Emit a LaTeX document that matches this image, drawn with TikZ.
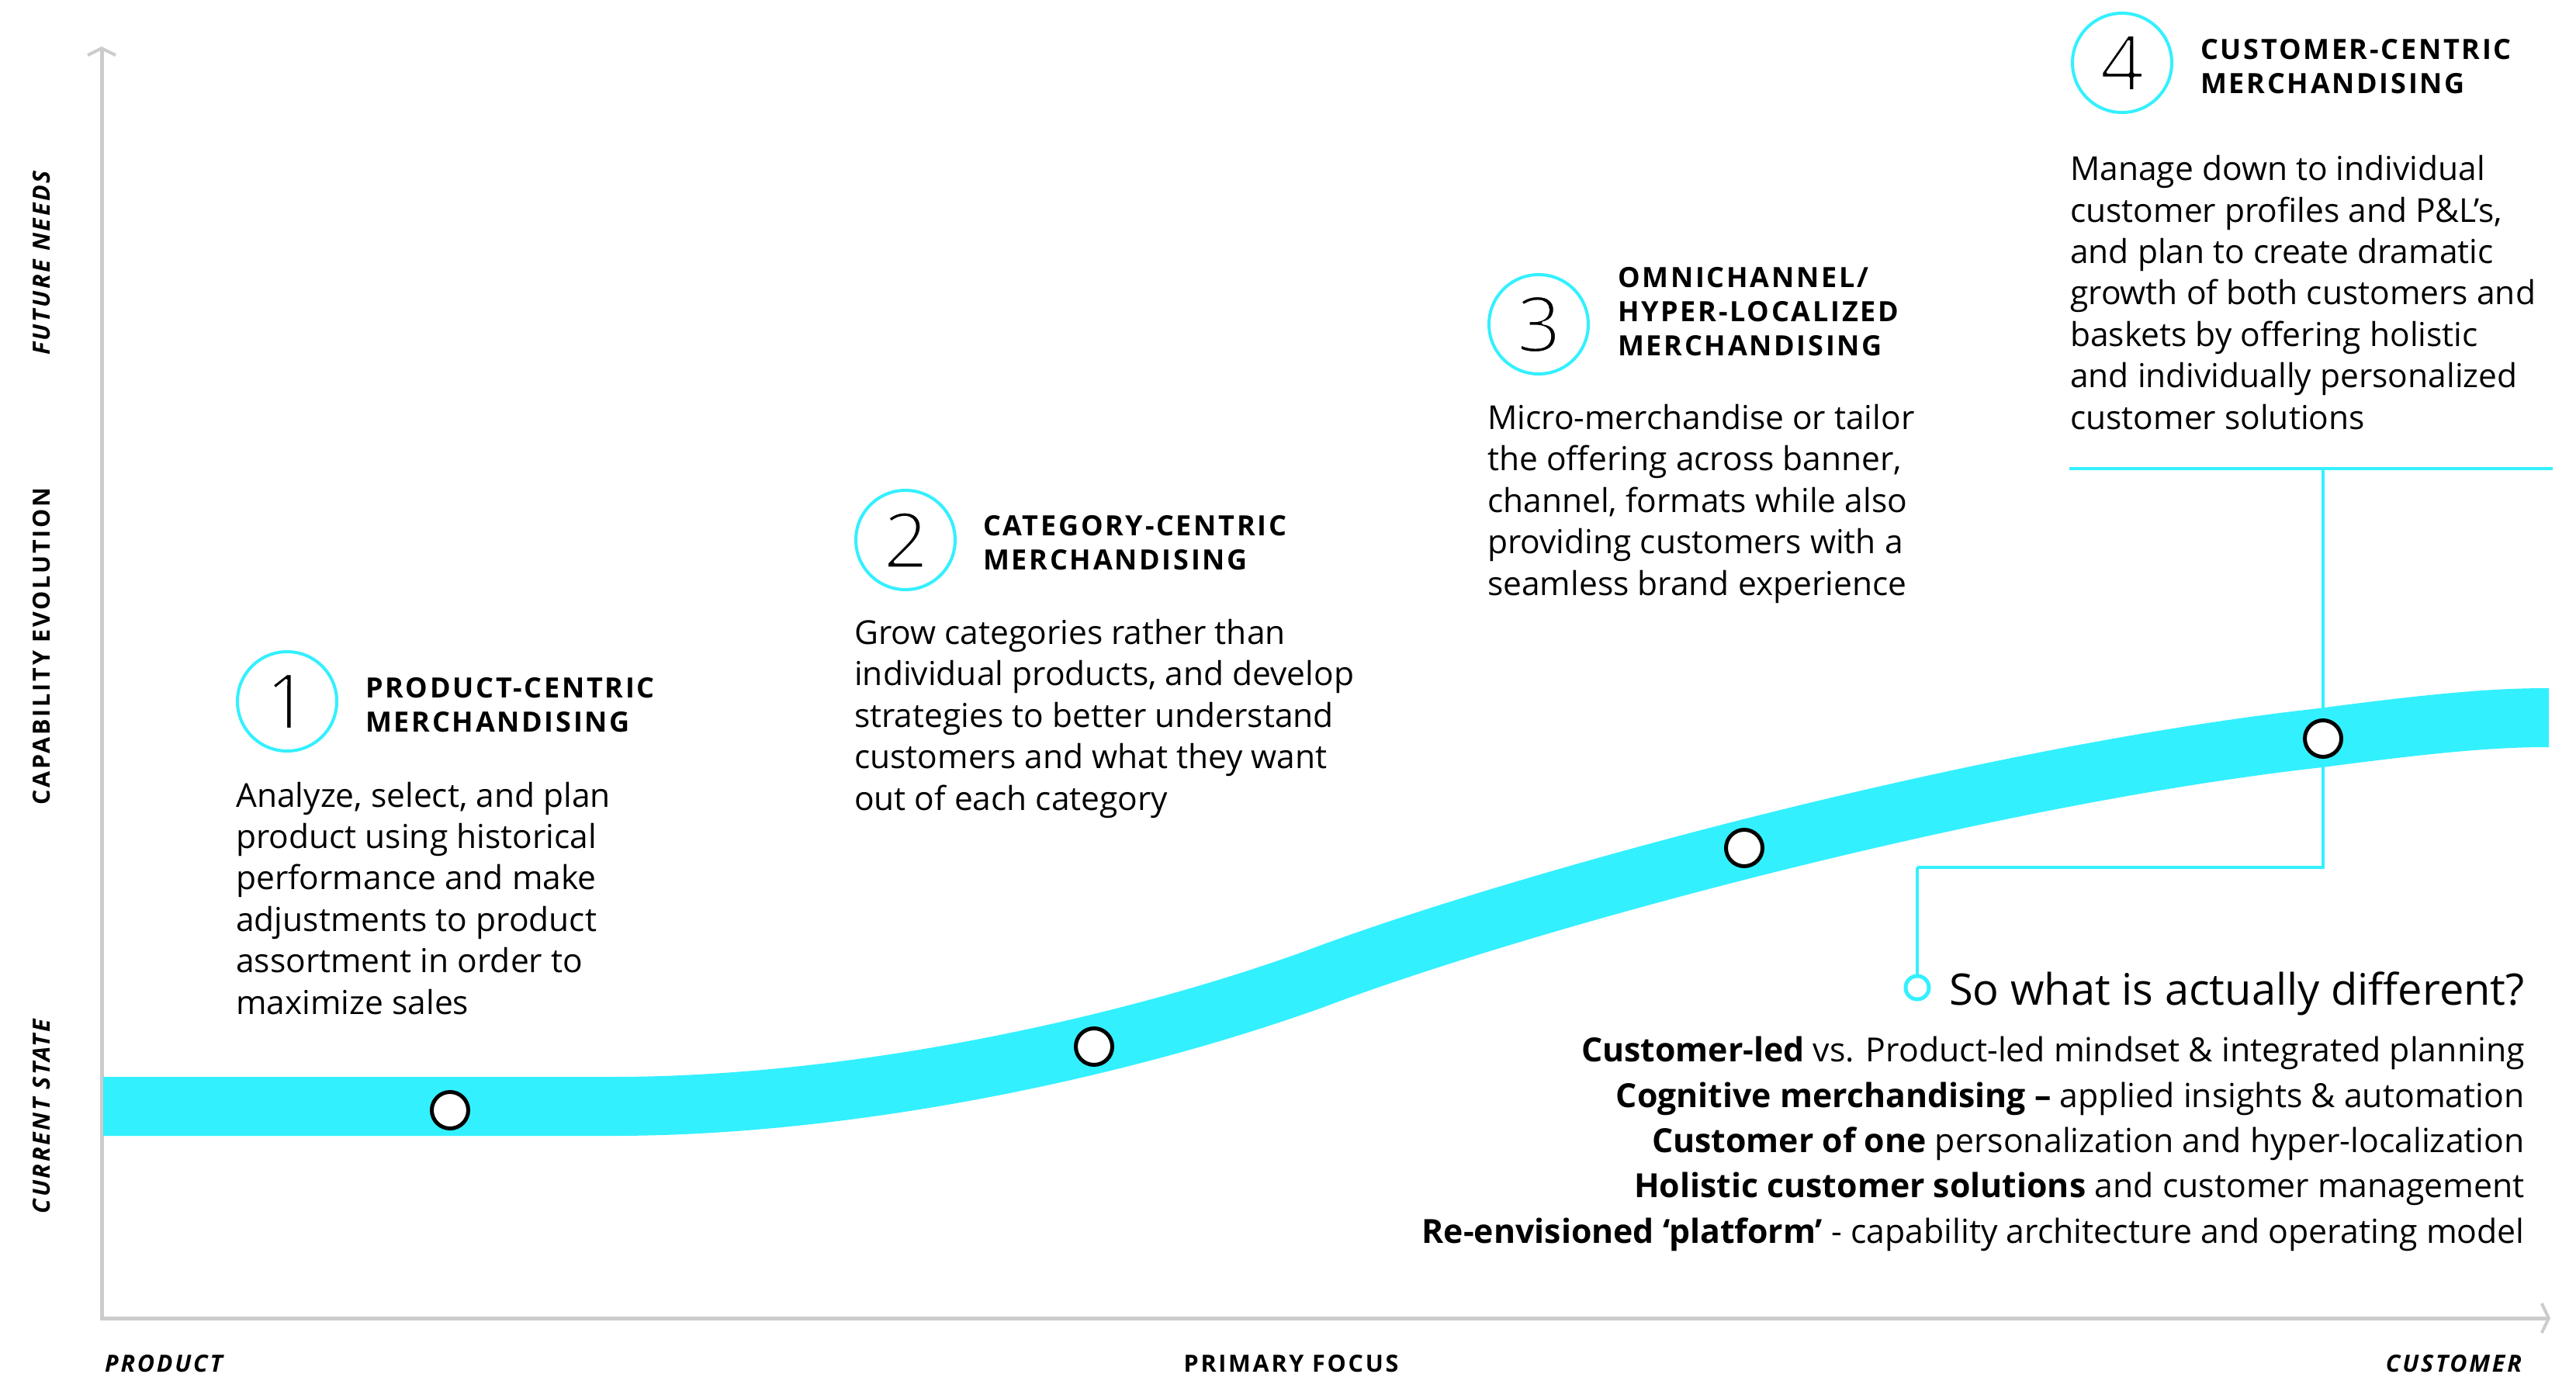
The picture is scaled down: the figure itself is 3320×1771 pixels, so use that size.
\documentclass[tikz,border=0pt]{standalone}
\usepackage{fontspec}
\setmainfont{Open Sans}
\newfontfamily\headfont{Open Sans}[LetterSpace=7.5]
\newfontfamily\axisfont{Open Sans}[LetterSpace=9]
\usetikzlibrary{arrows.meta}
\definecolor{cyanb}{RGB}{51,240,255}
\definecolor{axisgray}{RGB}{204,204,204}
\newcommand{\thindigit}[1]{\special{pdf:literal direct 2 Tr 1 1 1 RG 3.5 w 1 j}#1\special{pdf:literal direct 0 Tr}}
\begin{document}
\begin{tikzpicture}[x=1pt,y=-1pt,
  numcirc/.style={circle,draw=cyanb,line width=4pt,minimum size=128pt,inner sep=0pt,font=\fontsize{100}{100}\selectfont},
  headtxt/.style={anchor=base west,inner sep=0pt,align=left,font=\headfont\bfseries\fontsize{36}{44}\selectfont},
  bodytxt/.style={anchor=base west,inner sep=0pt,align=left,font=\fontsize{42.5}{53.4}\selectfont},
  axislbl/.style={inner sep=0pt,font=\axisfont\bfseries\itshape\fontsize{30.5}{34}\selectfont},
  axislblup/.style={inner sep=0pt,font=\axisfont\bfseries\fontsize{30.5}{34}\selectfont},
  marker/.style={circle,draw=black,fill=white,line width=5pt,minimum size=47pt,inner sep=0pt},
  link/.style={draw=cyanb,line width=4.5pt},
  axisline/.style={draw=axisgray,line width=5pt},
]
\useasboundingbox (0,0) rectangle (3320,1771);

% axes
\coordinate (ytop) at (131,60);
\coordinate (xend) at (3287,1699);
\draw[axisline,{Straight Barb[length=9pt,width=36pt,line width=4pt]}-{Straight Barb[length=9pt,width=38pt,line width=4pt]}] (ytop) |- (xend);

% axis labels
\node[axislbl,rotate=90] (fn) at (54,339) {FUTURE NEEDS};
\node[axislblup,rotate=90] (ce) at (54,833) {CAPABILITY EVOLUTION};
\node[axislbl,rotate=90] (cs) at (54,1439) {CURRENT STATE};
\node[axislbl,anchor=base west] (lp) at (135,1768) {PRODUCT};
\node[axislblup,anchor=base] (lf) at (1664,1768) {PRIMARY FOCUS};
\node[axislbl,anchor=base east] (lc) at (3250,1768) {CUSTOMER};

% connectors (behind the band)
\coordinate (tl) at (2667,604);
\coordinate (tr) at (3290,604);
\coordinate (m4pos) at (2994,952);
\coordinate (bend) at (2471,1118);
\draw[link] (tl) -- (tr);
\draw[link] (m4pos |- tl) -- (m4pos) |- (bend);

% band
\draw[cyanb,line width=76pt] (133,1426) -- (790,1426)
  .. controls (1100,1426) and (1450,1350) .. (1694,1262)
  .. controls (1950,1165) and (2550,1000) .. (2991,951)
  .. controls (3150,930) and (3220,925) .. (3285,925);

% markers
\node[marker] (m1) at (580,1431) {};
\node[marker] (m2) at (1410,1349) {};
\node[marker] (m3) at (2248,1093) {};
\node[marker] (m4) at (m4pos) {};

% so what
\node[circle,draw=cyanb,line width=5pt,minimum size=30pt,inner sep=0pt,fill=white] (sw) at (2471,1273) {};
\draw[link] (bend) -- (sw.north);
\node[anchor=base west,inner sep=0pt,font=\fontsize{56}{60}\selectfont] (q) at (2512,1295) {So what is actually different?};
\node[anchor=base east,align=right,inner sep=0pt,font=\fontsize{42.8}{58.3}\selectfont] (diff) at (3254,1602) {%
\textbf{Customer-led} vs. Product-led mindset \& integrated planning\\
\textbf{Cognitive merchandising --} applied insights \& automation\\
\textbf{Customer of one} personalization and hyper-localization\\
\textbf{Holistic customer solutions} and customer management\\
\textbf{Re-envisioned ‘platform’} - capability architecture and operating model};

% stage 1
\node[numcirc] (n1) at (370,904) {\thindigit{1}};
\node[headtxt] (h1) at (471,943) {PRODUCT-CENTRIC\\MERCHANDISING};
\node[bodytxt] (b1) at (304,1307) {Analyze, select, and plan\\product using historical\\performance and make\\adjustments to product\\assortment in order to\\maximize sales};

% stage 2
\node[numcirc] (n2) at (1167,696) {\thindigit{2}};
\node[headtxt] (h2) at (1267,734) {CATEGORY-CENTRIC\\MERCHANDISING};
\node[bodytxt] (b2) at (1101,1044) {Grow categories rather than\\individual products, and develop\\strategies to better understand\\customers and what they want\\out of each category};

% stage 3
\node[numcirc] (n3) at (1983,418) {\thindigit{3}};
\node[headtxt] (h3) at (2085,458) {OMNICHANNEL/\\HYPER-LOCALIZED\\MERCHANDISING};
\node[bodytxt] (b3) at (1917,767) {Micro-merchandise or tailor\\the offering across banner,\\channel, formats while also\\providing customers with a\\seamless brand experience};

% stage 4
\node[numcirc] (n4) at (2735,81) {\thindigit{4}};
\node[headtxt] (h4) at (2836,121) {CUSTOMER-CENTRIC\\MERCHANDISING};
\node[bodytxt] (b4) at (2668,553) {Manage down to individual\\customer profiles and P\&L’s,\\and plan to create dramatic\\growth of both customers and\\baskets by offering holistic\\and individually personalized\\customer solutions};
\end{tikzpicture}
\end{document}
